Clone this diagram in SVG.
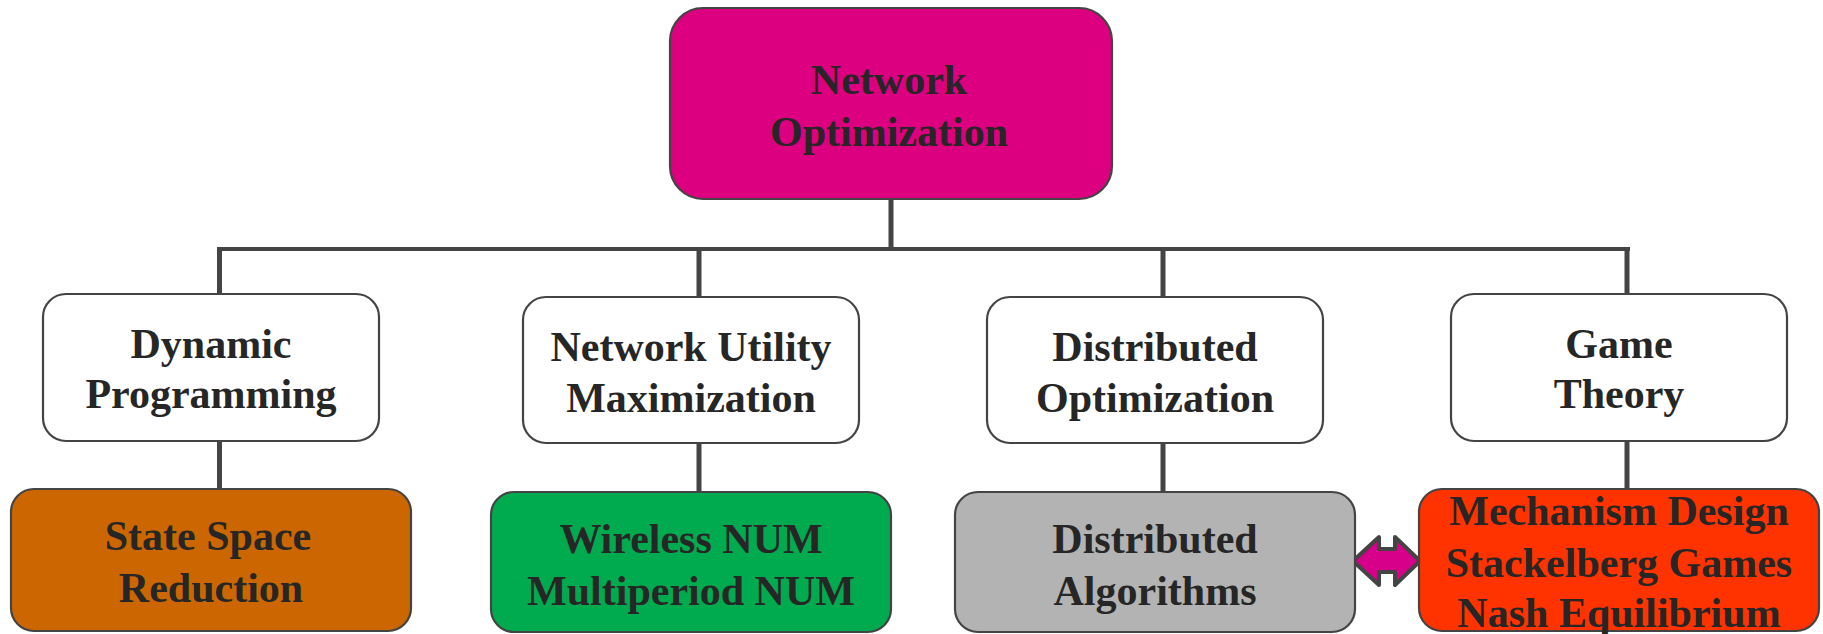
<svg xmlns="http://www.w3.org/2000/svg" width="1823" height="634" viewBox="0 0 1823 634">
<style>
.box{stroke:#444444;stroke-width:2.2}
.t{font-family:"Liberation Serif","Times New Roman",serif;font-weight:bold;font-size:42px;fill:#262626;text-anchor:middle}
.ln{stroke:#444444;fill:none}
</style>
<rect width="1823" height="634" fill="#ffffff"/>
<g id="connectors">
<line class="ln" x1="891" y1="199" x2="891" y2="249" stroke-width="5"/>
<line class="ln" x1="217" y1="249" x2="1630" y2="249" stroke-width="4"/>
<line class="ln" x1="219.5" y1="247" x2="219.5" y2="294" stroke-width="5"/>
<line class="ln" x1="699" y1="247" x2="699" y2="297" stroke-width="5"/>
<line class="ln" x1="1163" y1="247" x2="1163" y2="297" stroke-width="5"/>
<line class="ln" x1="1627" y1="247" x2="1627" y2="294" stroke-width="5"/>
<line class="ln" x1="219.5" y1="441" x2="219.5" y2="489" stroke-width="5"/>
<line class="ln" x1="699" y1="443" x2="699" y2="492" stroke-width="5"/>
<line class="ln" x1="1163" y1="443" x2="1163" y2="492" stroke-width="5"/>
<line class="ln" x1="1627" y1="441" x2="1627" y2="489" stroke-width="5"/>
<path d="M1353,561 L1379,537 L1379,549 L1395,549 L1395,537 L1420,561 L1395,585 L1395,572 L1379,572 L1379,585 Z" fill="#D6008A" stroke="#444444" stroke-width="4" stroke-linejoin="round"/>
</g>
<g id="root">
<rect class="box" x="670" y="8" width="442" height="191" rx="33" fill="#DC0081"/>
<text class="t" x="889" y="94">Network</text>
<text class="t" x="889" y="146">Optimization</text>
</g>
<g id="dp">
<rect class="box" x="43" y="294" width="336" height="147" rx="23" fill="#ffffff"/>
<text class="t" x="211" y="358">Dynamic</text>
<text class="t" x="211" y="408">Programming</text>
</g>
<g id="num">
<rect class="box" x="523" y="297" width="336" height="146" rx="23" fill="#ffffff"/>
<text class="t" x="691" y="361">Network Utility</text>
<text class="t" x="691" y="412">Maximization</text>
</g>
<g id="dopt">
<rect class="box" x="987" y="297" width="336" height="146" rx="23" fill="#ffffff"/>
<text class="t" x="1155" y="361">Distributed</text>
<text class="t" x="1155" y="412">Optimization</text>
</g>
<g id="game">
<rect class="box" x="1451" y="294" width="336" height="147" rx="23" fill="#ffffff"/>
<text class="t" x="1619" y="358">Game</text>
<text class="t" x="1619" y="408">Theory</text>
</g>
<g id="ssr">
<rect class="box" x="11" y="489" width="400" height="142" rx="23" fill="#CC6600"/>
<text class="t" x="208" y="550">State Space</text>
<text class="t" x="211" y="602">Reduction</text>
</g>
<g id="wnum">
<rect class="box" x="491" y="492" width="400" height="140" rx="23" fill="#00AA4F"/>
<text class="t" x="691" y="553">Wireless NUM</text>
<text class="t" x="691" y="605">Multiperiod NUM</text>
</g>
<g id="dalg">
<rect class="box" x="955" y="492" width="400" height="140" rx="23" fill="#B3B3B3"/>
<text class="t" x="1155" y="553">Distributed</text>
<text class="t" x="1155" y="605">Algorithms</text>
</g>
<g id="gt">
<rect class="box" x="1419" y="489" width="400" height="142" rx="23" fill="#FF3300"/>
<text class="t" x="1619" y="525">Mechanism Design</text>
<text class="t" x="1619" y="577">Stackelberg Games</text>
<text class="t" x="1619" y="627">Nash Equilibrium</text>
</g>
</svg>
